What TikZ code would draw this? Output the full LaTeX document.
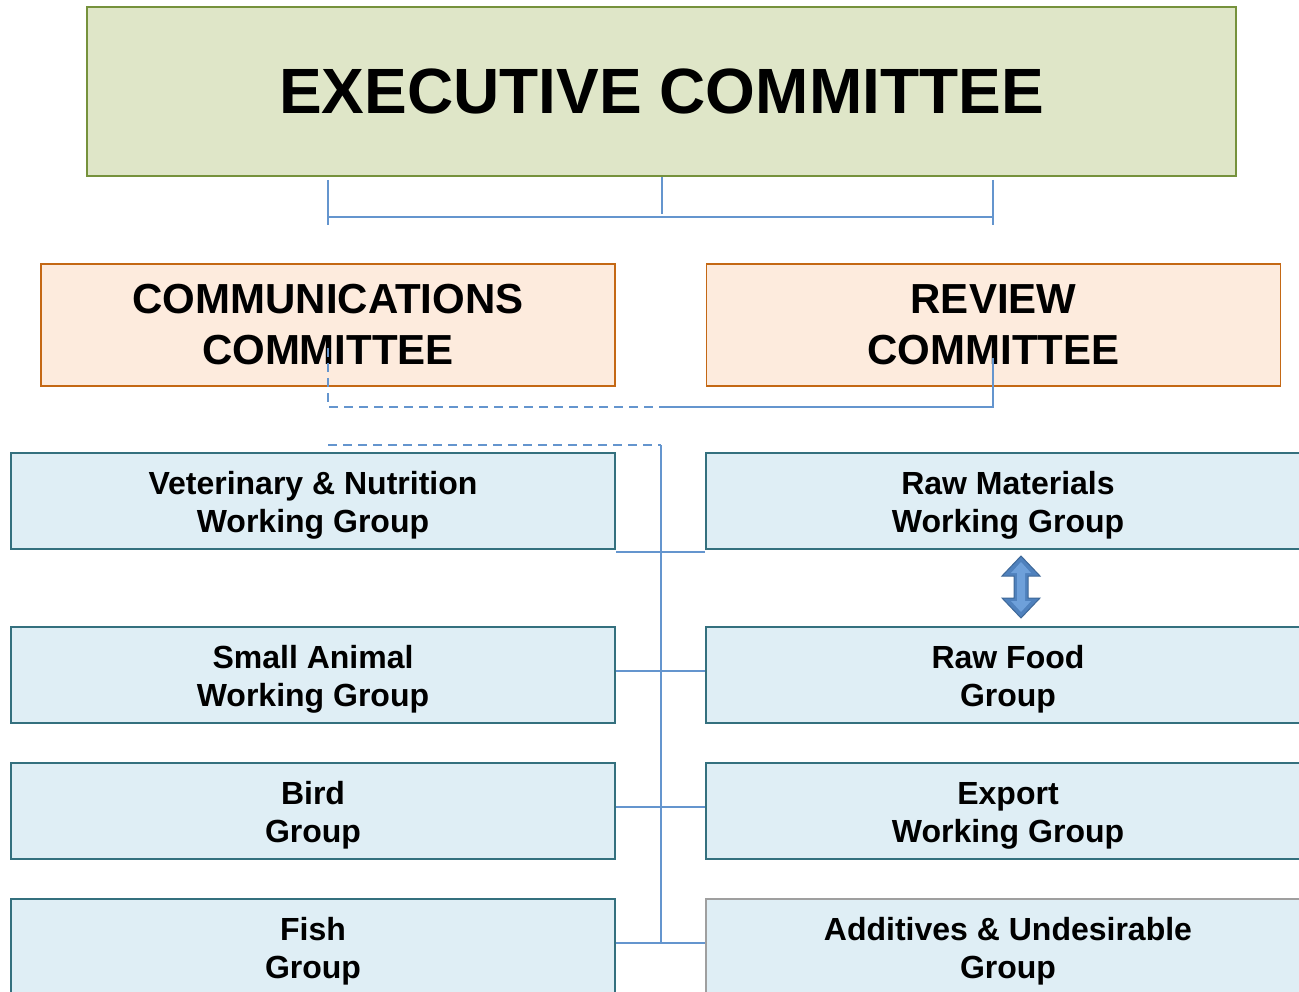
\documentclass[tikz,border=0pt]{standalone}
\usepackage{fontspec}
\setmainfont{Liberation Sans}
\usetikzlibrary{calc}
\definecolor{execfill}{RGB}{223,230,200}
\definecolor{execline}{RGB}{118,146,60}
\definecolor{comfill}{RGB}{253,235,221}
\definecolor{comline}{RGB}{196,104,20}
\definecolor{wgfill}{RGB}{223,238,245}
\definecolor{wgline}{RGB}{52,112,126}
\definecolor{treeblue}{RGB}{100,149,206}
\definecolor{arrowfill}{RGB}{79,129,189}
\definecolor{arrowline}{RGB}{62,104,152}
\definecolor{arrowlight}{RGB}{110,160,218}
\tikzset{%
  exec/.style = {rectangle,draw=execline,fill=execfill,line width=1.5pt,
        minimum width=1149,minimum height=169,inner sep=0pt,
        font=\fontsize{64}{70}\selectfont\bfseries},
  com/.style = {rectangle,draw=comline,fill=comfill,line width=1.5pt,
        minimum width=574,minimum height=122,inner sep=0pt,align=center,
        font=\fontsize{42}{51}\selectfont\bfseries},
  wg/.style = {rectangle,draw=wgline,fill=wgfill,line width=1.8pt,
        minimum width=604,minimum height=96,inner sep=0pt,align=center,
        text height=70pt,
        font=\fontsize{32}{38}\selectfont\bfseries},
  tree/.style = {draw=treeblue,line width=2pt},
  treedash/.style = {tree,dash pattern=on 9pt off 6pt}
}
\begin{document}
\begin{tikzpicture}[x=1pt,y=-1pt]
        \useasboundingbox (0,0) rectangle (1299,992);
        \clip (0,0) rectangle (1299,992);

        \node[exec] (exec) at (661.5,91.5) {EXECUTIVE COMMITTEE};
        \node[com] (comm) at (328,325) {COMMUNICATIONS\\COMMITTEE};
        \node[com] (review) at (993.5,325) {REVIEW\\COMMITTEE};

        \node[wg] (vet) at (313,501) {Veterinary \& Nutrition\\Working Group};
        \node[wg] (small) at (313,675) {Small Animal\\Working Group};
        \node[wg] (bird) at (313,811) {Bird\\Group};
        \node[wg] (fish) at (313,947) {Fish\\Group};
        \node[wg] (raw) at (1008,501) {Raw Materials\\Working Group};
        \node[wg] (rawfood) at (1008,675) {Raw Food\\Group};
        \node[wg] (export) at (1008,811) {Export\\Working Group};
        \node[wg,draw=gray!75] (additives) at (1008,947) {Additives \& Undesirable\\Group};

        % executive bracket
        \coordinate (bl) at (328,217);
        \coordinate (br) at (993,217);
        \draw[tree] (exec.south) -- ($(exec.south)+(0,37)$);
        \draw[tree] (bl) -- (br);
        \draw[tree] ($(bl)+(0,-37)$) -- ($(bl)+(0,8)$);
        \draw[tree] ($(br)+(0,-37)$) -- ($(br)+(0,8)$);

        % committees link
        \coordinate (link) at (661,407);
        \draw[treedash] (328,348) |- (link);
        \draw[tree] (link) -| (993,358);

        % working group spine
        \coordinate (spine) at (661,445);
        \coordinate (spineend) at (661,943);
        \draw[treedash] (328,445) -- (spine);
        \draw[tree] (spine) -- (spineend);
        \draw[tree] ([yshift=-2pt]vet.south east) -- ([yshift=-2pt]raw.south west);
        \draw[tree] ([yshift=4pt]small.east) -- ([yshift=4pt]rawfood.west);
        \draw[tree] ([yshift=4pt]bird.east) -- ([yshift=4pt]export.west);
        \draw[tree] ([yshift=4pt]fish.east) -- ([yshift=4pt]additives.west);

        % double arrow between raw materials and raw food
        \coordinate (swap) at (1021,587);
        \filldraw[fill=arrowfill,draw=arrowline,line width=1pt]
          ($(swap)+(0,-31)$) -- ++(19,20) -- ++(-12,0) -- ++(0,22) -- ++(12,0)
          -- ++(-19,20) -- ++(-19,-20) -- ++(12,0) -- ++(0,-22) -- ++(-12,0) -- cycle;
        \fill[arrowlight]
          ($(swap)+(0,-25)$) -- ++(10,11) -- ++(-6,0) -- ++(0,28) -- ++(6,0)
          -- ++(-10,11) -- ++(-10,-11) -- ++(6,0) -- ++(0,-28) -- ++(-6,0) -- cycle;

    \end{tikzpicture}
\end{document}
